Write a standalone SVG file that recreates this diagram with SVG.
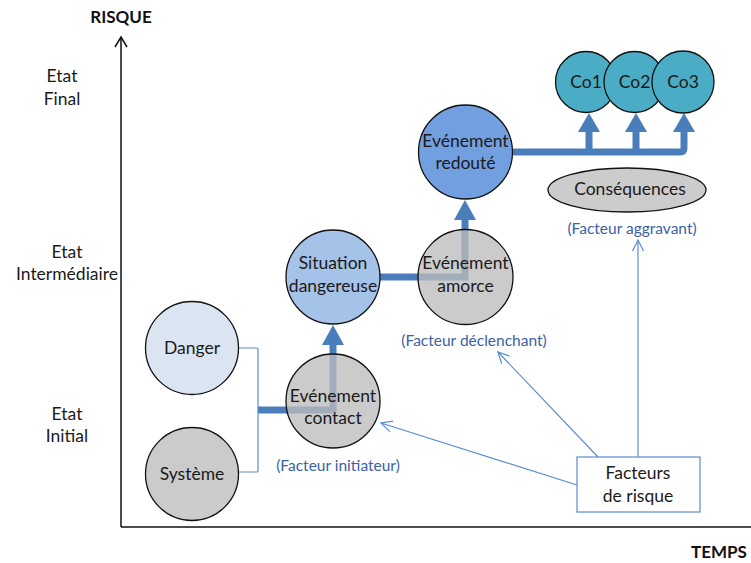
<svg xmlns="http://www.w3.org/2000/svg" width="751" height="563" viewBox="0 0 751 563">
  <style>
    .lbl { font-family: Lato, "Liberation Sans", sans-serif; font-size: 17.5px; fill: #1a1a1a; text-anchor: middle; }
    .axis-t { font-family: Lato, "Liberation Sans", sans-serif; font-size: 17px; font-weight: bold; fill: #111; text-anchor: middle; }
    .fac { font-family: Lato, "Liberation Sans", sans-serif; font-size: 15.5px; fill: #3b62a3; text-anchor: middle; }
    .node { stroke: #111; stroke-width: 1.3; }
    .see-through { fill: #bbbbbb; fill-opacity: 0.77; }
    .thick { fill: none; stroke: #4a7ebb; stroke-width: 7; }
    .head { fill: #4a7ebb; }
    .thin { fill: none; stroke: #5a8bd0; stroke-width: 1.2; }
  </style>
  <defs>
    <marker id="open" markerUnits="userSpaceOnUse" markerWidth="14" markerHeight="14" viewBox="-12 -7 14 14" refX="0" refY="0" orient="auto">
      <path d="M-11,-5.5 L0,0 L-11,5.5" fill="none" stroke="#5a8bd0" stroke-width="1.2"/>
    </marker>
    <marker id="axisHead" markerUnits="userSpaceOnUse" markerWidth="16" markerHeight="16" viewBox="-12 -8 14 16" refX="0" refY="0" orient="auto">
      <path d="M-10,-6 L0,0 L-10,6" fill="none" stroke="#111" stroke-width="1.5"/>
    </marker>
  </defs>

  <rect width="751" height="563" fill="#ffffff"/>

  <!-- axes -->
  <g id="axes">
    <line x1="121" y1="527" x2="121" y2="37" stroke="#111" stroke-width="1.5" marker-end="url(#axisHead)"/>
    <line x1="121" y1="527" x2="751" y2="527" stroke="#111" stroke-width="1.5"/>
    <text class="axis-t" x="121" y="23">RISQUE</text>
    <text class="axis-t" x="719" y="558">TEMPS</text>
  </g>

  <!-- level labels -->
  <g id="levels">
    <text class="lbl" x="62" y="82">Etat</text>
    <text class="lbl" x="62" y="105">Final</text>
    <text class="lbl" x="67" y="258">Etat</text>
    <text class="lbl" x="67" y="280">Intermédiaire</text>
    <text class="lbl" x="67" y="420">Etat</text>
    <text class="lbl" x="67" y="442">Initial</text>
  </g>

  <!-- connectors -->
  <g id="connectors">
    <path class="thin" d="M239,348 H257 Q258,348 258,349 V471 Q258,472 257,472 H239"/>
    <path class="thick" d="M258,410 H333 V345"/>
    <polygon class="head" points="322,345 344,345 333,325"/>
    <path class="thick" d="M380,277 H465 V220"/>
    <polygon class="head" points="454,220 476,220 465,200"/>
    <path class="thick" d="M513,152 H680 Q684,152 684,148 V132"/>
    <path class="thick" d="M589,152 V132 M636,152 V132"/>
    <polygon class="head" points="578,132 600,132 589,113"/>
    <polygon class="head" points="625,132 647,132 636,113"/>
    <polygon class="head" points="673,132 695,132 684,113"/>
    <line class="thin" x1="577" y1="485" x2="381" y2="423" marker-end="url(#open)"/>
    <line class="thin" x1="598" y1="457" x2="498" y2="352" marker-end="url(#open)"/>
    <line class="thin" x1="638" y1="457" x2="638" y2="240" marker-end="url(#open)"/>
  </g>

  <g id="danger">
    <circle class="node" cx="192" cy="348" r="46.5" fill="#dbe5f1"/>
    <text class="lbl" x="192" y="354">Danger</text>
  </g>
  <g id="systeme">
    <circle class="node" cx="192" cy="474" r="46.5" fill="#cbcbcb"/>
    <text class="lbl" x="192" y="480">Système</text>
  </g>
  <g id="evenement-contact">
    <circle class="node see-through" cx="333" cy="401" r="47"/>
    <text class="lbl" x="333" y="402">Evénement</text>
    <text class="lbl" x="333" y="424">contact</text>
  </g>
  <g id="situation-dangereuse">
    <circle class="node" cx="333" cy="277" r="47" fill="#a5c2e9"/>
    <text class="lbl" x="333" y="269">Situation</text>
    <text class="lbl" x="333" y="292">dangereuse</text>
  </g>
  <g id="evenement-amorce">
    <circle class="node see-through" cx="465.5" cy="277" r="47.5"/>
    <text class="lbl" x="465.5" y="269">Evénement</text>
    <text class="lbl" x="465.5" y="292">amorce</text>
  </g>
  <g id="evenement-redoute">
    <circle class="node" cx="465.5" cy="152" r="47" fill="#729fdf"/>
    <text class="lbl" x="465.5" y="147">Evénement</text>
    <text class="lbl" x="465.5" y="169">redouté</text>
  </g>
  <g id="co1">
    <circle class="node" cx="586" cy="82" r="30.5" fill="#4aacc5"/>
    <text class="lbl" x="586" y="88">Co1</text>
  </g>
  <g id="co2">
    <circle class="node" cx="634.5" cy="82" r="30.5" fill="#4aacc5"/>
    <text class="lbl" x="634.5" y="88">Co2</text>
  </g>
  <g id="co3">
    <circle class="node" cx="683" cy="82" r="31" fill="#4aacc5"/>
    <text class="lbl" x="683" y="88">Co3</text>
  </g>
  <g id="consequences">
    <ellipse class="node" cx="627" cy="190" rx="79" ry="22" fill="#cccccc"/>
    <text class="lbl" x="630" y="195">Conséquences</text>
  </g>
  <g id="facteurs-de-risque">
    <rect x="577" y="457" width="123" height="55" fill="#ffffff" stroke="#5a8bd0" stroke-width="1.2"/>
    <text class="lbl" x="638" y="479">Facteurs</text>
    <text class="lbl" x="638" y="502">de risque</text>
  </g>

  <g id="factor-labels">
    <text class="fac" x="632" y="234">(Facteur aggravant)</text>
    <text class="fac" x="474" y="346">(Facteur déclenchant)</text>
    <text class="fac" x="338" y="471">(Facteur initiateur)</text>
  </g>
</svg>
